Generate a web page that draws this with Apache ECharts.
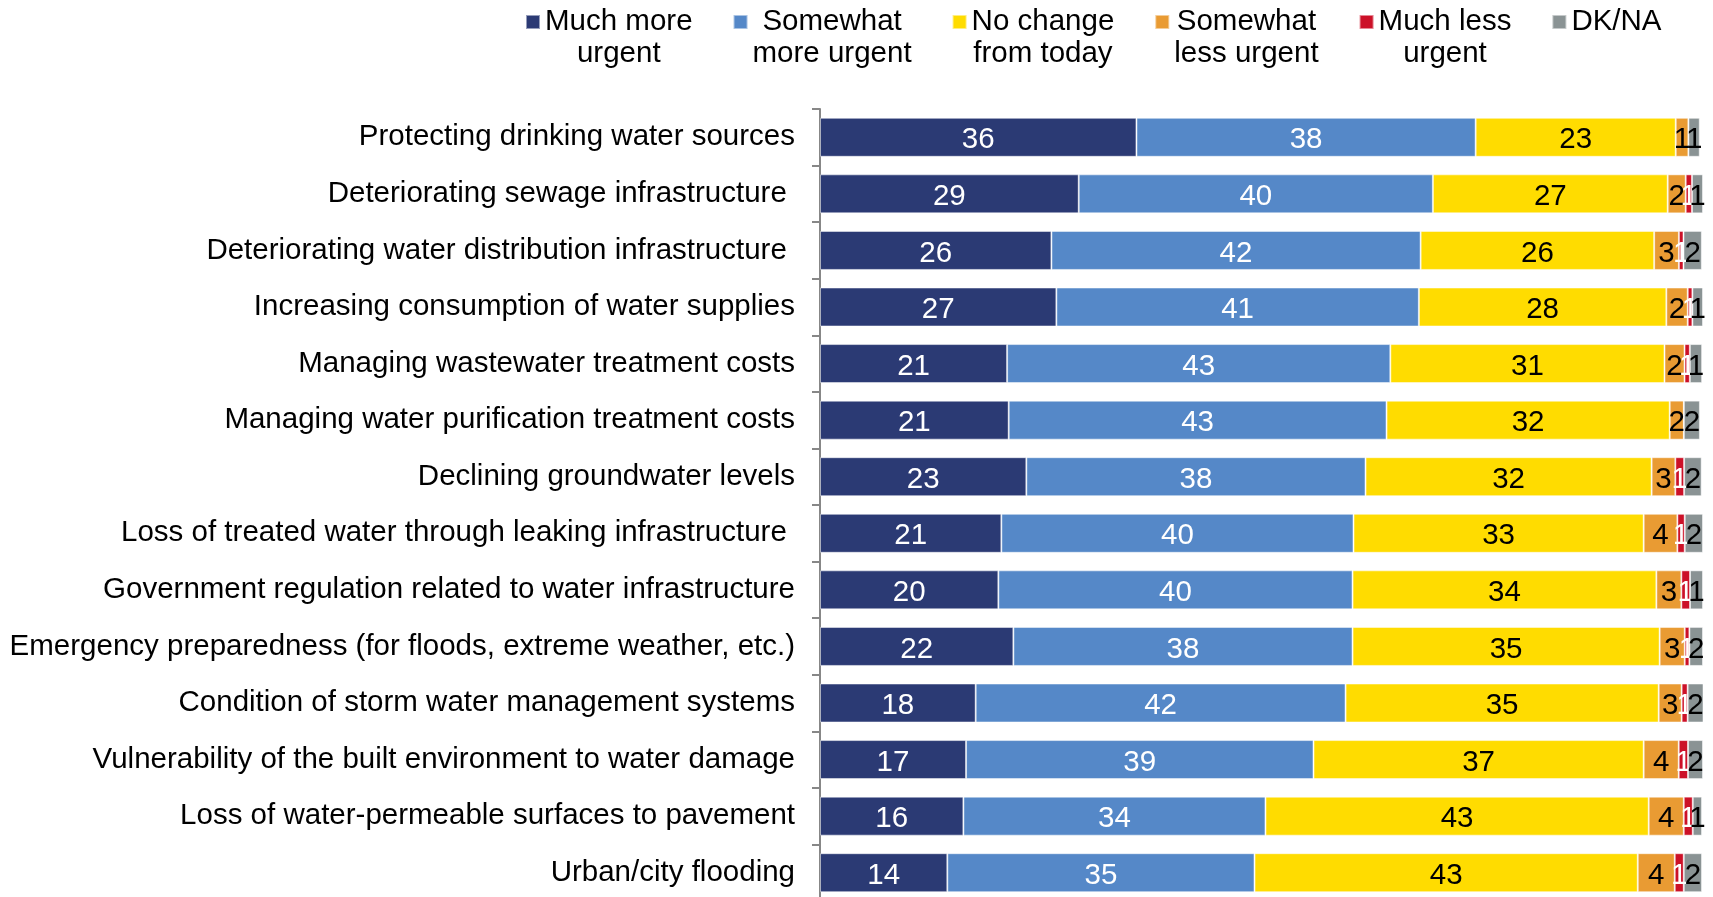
<!DOCTYPE html>
<html>
<head>
<meta charset="utf-8">
<script src="https://cdn.jsdelivr.net/npm/echarts@6/dist/echarts.min.js"></script>
<style>
  html, body { margin: 0; padding: 0; background: #fff; }
  #chart { width: 1713px; height: 897px; }
</style>
</head>
<body>
<div id="chart"></div>
<script>
const categories = [
  'Protecting drinking water sources',
  'Deteriorating sewage infrastructure ',
  'Deteriorating water distribution infrastructure ',
  'Increasing consumption of water supplies',
  'Managing wastewater treatment costs',
  'Managing water purification treatment costs',
  'Declining groundwater levels',
  'Loss of treated water through leaking infrastructure ',
  'Government regulation related to water infrastructure',
  'Emergency preparedness (for floods, extreme weather, etc.)',
  'Condition of storm water management systems',
  'Vulnerability of the built environment to water damage',
  'Loss of water-permeable surfaces to pavement',
  'Urban/city flooding'
]

// percent of respondents
const muchMore     = [35.84, 29.30, 26.21, 26.77, 21.19, 21.37, 23.37, 20.54, 20.20, 21.90, 17.63, 16.54, 16.24, 14.42]
const somewhatMore = [38.41, 40.11, 41.81, 41.05, 43.40, 42.79, 38.41, 39.88, 40.11, 38.41, 41.89, 39.35, 34.21, 34.79]
const noChange     = [22.66, 26.59, 26.45, 28.03, 31.05, 32.07, 32.40, 32.86, 34.41, 34.78, 35.46, 37.39, 43.40, 43.40]
const somewhatLess = [1.44, 2.04, 2.80, 2.42, 2.27, 1.60, 2.69, 3.82, 2.83, 2.84, 2.60, 3.97, 3.97, 4.19]
const muchLess     = [0, 0.71, 0.52, 0.53, 0.60, 0, 0.99, 0.83, 0.98, 0.53, 0.68, 1.05, 1.02, 1.02]
const dkna         = [1.28, 1.25, 2.08, 1.20, 1.39, 1.82, 1.99, 2.07, 1.47, 1.54, 1.88, 1.70, 1.05, 2.07]

const seriesDefs = [
  { name: 'Much more\nurgent', data: muchMore, color: '#2B3A74', label: '#fff' },
  { name: 'Somewhat\nmore urgent', data: somewhatMore, color: '#5588C8', label: '#fff' },
  { name: 'No change\nfrom today', data: noChange, color: '#FFDC00', label: '#000' },
  { name: 'Somewhat\nless urgent', data: somewhatLess, color: '#E99B33', label: '#000' },
  { name: 'Much less\nurgent', data: muchLess, color: '#CC1128', label: '#fff' },
  { name: 'DK/NA', data: dkna, color: '#8A9394', label: '#000' }
]

const font = '"Liberation Sans", Arial, sans-serif'
const fs = 29.5

const chart = echarts.init(document.getElementById('chart'))

chart.setOption({
  animation: false,
  textStyle: { fontFamily: font },
  legend: {
    left: 520,
    top: -30,
    itemWidth: 14,
    itemHeight: 14,
    itemGap: 40,
    icon: 'rect',
    textStyle: {
      fontSize: fs,
      color: '#000',
      fontFamily: font,
      rich: {
        c: { align: 'center', fontSize: fs, lineHeight: 32, fontFamily: font, color: '#000' }
      }
    },
    formatter: name => {
      const lines = name.split('\n')
      if (lines.length === 1) return name
      return ['{c| }'].concat(lines.map(s => '{c|' + s + '}')).join('\n')
    }
  },
  grid: {
    left: 820,
    top: 109,
    width: 883,
    height: 792,
    outerBoundsMode: 'none'
  },
  xAxis: {
    type: 'value',
    min: 0,
    max: 100,
    show: false
  },
  yAxis: {
    type: 'category',
    inverse: true,
    data: categories,
    axisLine: { lineStyle: { color: '#878787', width: 2 } },
    axisTick: { show: true, length: 8, lineStyle: { color: '#878787', width: 2 } },
    axisLabel: { fontSize: fs, color: '#000', margin: 25, fontFamily: font, padding: [8, 0, 0, 0] }
  },
  series: seriesDefs.map(s => ({
    name: s.name,
    type: 'bar',
    stack: 'total',
    barWidth: 39,
    data: s.data,
    itemStyle: {
      color: s.color,
      borderColor: 'rgba(255,255,255,0.5)',
      borderWidth: 1
    },
    label: {
      show: true,
      position: 'inside',
      offset: [0, 3],
      fontSize: fs,
      fontFamily: font,
      color: s.label,
      formatter: p => {
        const v = Math.round(p.value)
        return v ? String(v) : ''
      }
    }
  }))
})
</script>
</body>
</html>
